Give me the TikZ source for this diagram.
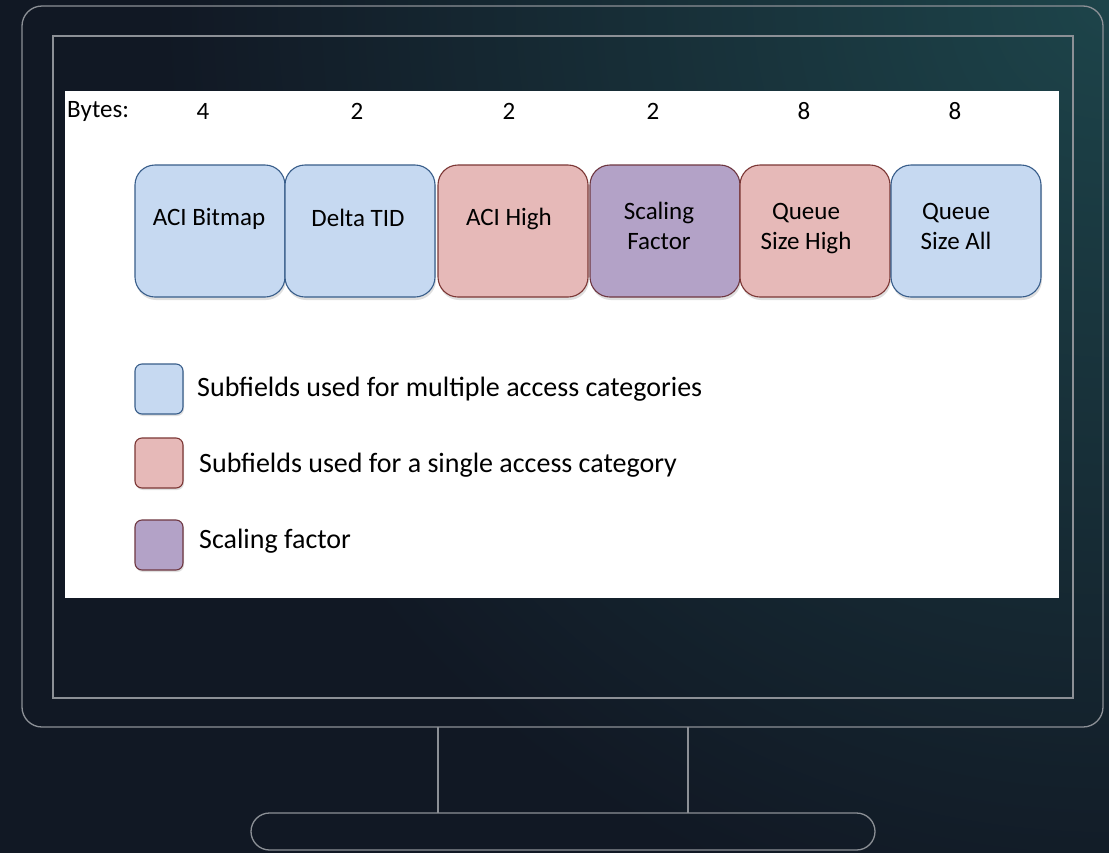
\documentclass[tikz,border=0pt]{standalone}
\usepackage{fontspec}
\setmainfont{Carlito}
\usetikzlibrary{shadows}

\definecolor{bgdark}{RGB}{17,24,36}
\definecolor{bgteal}{RGB}{29,68,74}
\definecolor{frame}{RGB}{140,144,150}
\definecolor{bluefill}{RGB}{198,217,241}
\definecolor{blueline}{RGB}{56,93,138}
\definecolor{redfill}{RGB}{230,185,184}
\definecolor{redline}{RGB}{124,55,53}
\definecolor{purplefill}{RGB}{179,162,199}
\definecolor{purpleline}{RGB}{110,55,65}

\tikzset{
  field/.style={draw, line width=1.1pt, rounded corners=20pt,
    minimum width=150pt, minimum height=132pt, inner sep=0pt,
    drop shadow={shadow xshift=1pt, shadow yshift=-3pt, opacity=0.25}},
  multi/.style={field, fill=bluefill, draw=blueline},
  single/.style={field, fill=redfill, draw=redline},
  scale factor/.style={field, fill=purplefill, draw=purpleline},
  keybox/.style={draw, line width=1.1pt, rounded corners=7pt,
    minimum width=48pt, minimum height=50pt, inner sep=0pt,
    drop shadow={shadow xshift=1pt, shadow yshift=-2pt, opacity=0.25}},
  txt/.style={font=\fontsize{25}{30}\selectfont, text=black, inner sep=0pt, align=center},
  keytxt/.style={font=\fontsize{28}{32}\selectfont, text=black, inner sep=0pt, anchor=west},
  frameline/.style={draw=frame, line width=1.3pt}
}

\begin{document}
\begin{tikzpicture}[x=1pt, y=-1pt]
  \useasboundingbox (0,0) rectangle (1109,852);
  % backdrop with a teal glow in the upper right
  \fill[bgdark] (-10,-10) rectangle (1119,862);
  \begin{scope}
    \clip (-10,-10) rectangle (1119,862);
    \shade[inner color=bgteal, outer color=bgdark] (1109,0) circle (950pt);
  \end{scope}

  % monitor outline
  \draw[frameline, rounded corners=20pt] (22,6) rectangle (1103,727);
  \draw[frameline] (53,36) rectangle (1073,698);
  \draw[frameline] (438,727) -- (438,813);
  \draw[frameline] (688,727) -- (688,813);
  \draw[frameline, rounded corners=18.5pt] (251,813) rectangle (875,850);

  % screen content
  \fill[white] (65,91) rectangle (1059,598);

  % byte counts
  \node[txt, anchor=west] (bytes) at (67,111) {Bytes:};
  \node[txt] (b1) at (203,111) {4};
  \node[txt] (b2) at (357,111) {2};
  \node[txt] (b3) at (509,111) {2};
  \node[txt] (b4) at (653,111) {2};
  \node[txt] (b5) at (804,111) {8};
  \node[txt] (b6) at (955,111) {8};

  % subfields
  \node[multi] (f1) at (210,231) {};
  \node[multi] (f2) at (360,231) {};
  \node[single] (f3) at (513,231) {};
  \node[scale factor] (f4) at (665,231) {};
  \node[single] (f5) at (815,231) {};
  \node[multi] (f6) at (966,231) {};

  \node[txt] (t1) at (209,219) {ACI Bitmap};
  \node[txt] (t2) at (358,218) {Delta TID};
  \node[txt] (t3) at (509,219) {ACI High};
  \node[txt] (t4) at (659,226) {Scaling\\Factor};
  \node[txt] (t5) at (806,229) {Queue\\Size High};
  \node[txt] (t6) at (956,226) {Queue\\Size All};

  % key
  \node[keybox, fill=bluefill, draw=blueline] (k1) at (159,389) {};
  \node[keybox, fill=redfill, draw=redline] (k2) at (159,463) {};
  \node[keybox, fill=purplefill, draw=purpleline] (k3) at (159,545) {};

  \node[keytxt] (l1) at (197,389) {Subfields used for multiple access categories};
  \node[keytxt] (l2) at (199,465) {Subfields used for a single access category};
  \node[keytxt] (l3) at (199,541) {Scaling factor};
\end{tikzpicture}
\end{document}
